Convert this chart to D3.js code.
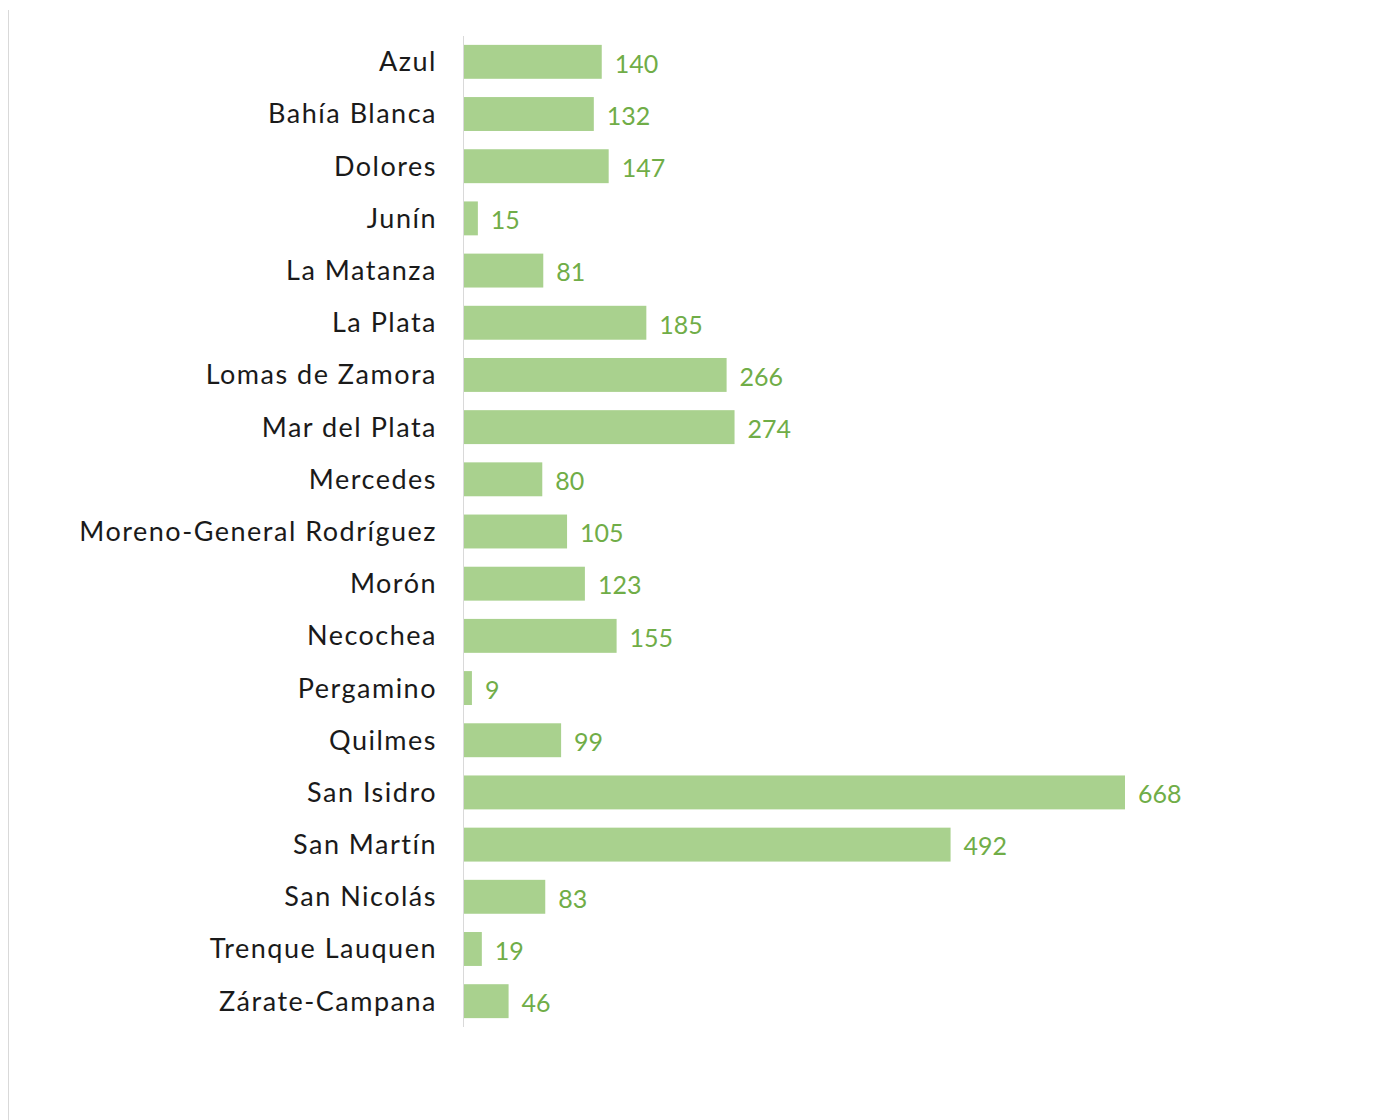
<!DOCTYPE html>
<html>
<head>
<meta charset="utf-8">
<script src="https://cdn.jsdelivr.net/npm/d3@7"></script>
<style>
  body { margin: 0; background: #fff; }
  svg { display: block; }
</style>
</head>
<body>
<svg id="chart" width="1378" height="1120"></svg>
<script>
// departamentos judiciales
const categories = ['Azul', 'Bahía Blanca', 'Dolores', 'Junín', 'La Matanza', 'La Plata',
  'Lomas de Zamora', 'Mar del Plata', 'Mercedes', 'Moreno-General Rodríguez', 'Morón',
  'Necochea', 'Pergamino', 'Quilmes', 'San Isidro', 'San Martín', 'San Nicolás',
  'Trenque Lauquen', 'Zárate-Campana']
const values = [140, 132, 147, 15, 81, 185, 266, 274, 80, 105, 123, 155, 9, 99, 668, 492, 83, 19, 46]

const svg = d3.select('#chart')
const x0 = 463

const x = d3.scaleLinear().domain([0, 668]).range([x0, 1125])
const y = d3.scaleBand().domain(categories).range([36, 1027]).paddingInner(0.35).paddingOuter(0.17)

// frame line on the left
svg.append('line')
  .attr('x1', 8.5).attr('x2', 8.5).attr('y1', 10).attr('y2', 1120)
  .attr('stroke', '#d9d9d9').attr('stroke-width', 1)

const data = categories.map((c, i) => ({ cat: c, val: values[i] }))

svg.selectAll('rect.bar')
  .data(data)
  .enter().append('rect')
  .attr('class', 'bar')
  .attr('x', x(0))
  .attr('y', d => y(d.cat))
  .attr('width', d => x(d.val) - x(0))
  .attr('height', y.bandwidth())
  .attr('fill', '#a9d18e')

// vertical axis line
svg.append('line')
  .attr('x1', x0 + 0.5).attr('x2', x0 + 0.5).attr('y1', 36).attr('y2', 1027)
  .attr('stroke', '#d9d9d9').attr('stroke-width', 1)

svg.selectAll('text.cat')
  .data(data)
  .enter().append('text')
  .attr('class', 'cat')
  .attr('x', 437)
  .attr('y', d => y(d.cat) + y.bandwidth() / 2)
  .attr('dy', '0.35em')
  .attr('text-anchor', 'end')
  .attr('font-family', 'Lato, sans-serif')
  .attr('font-size', 27)
  .attr('letter-spacing', 1.5)
  .attr('fill', '#1a1a1a')
  .text(d => d.cat)

svg.selectAll('text.val')
  .data(data)
  .enter().append('text')
  .attr('class', 'val')
  .attr('x', d => x(d.val) + 13)
  .attr('y', d => y(d.cat) + y.bandwidth() / 2 + 2)
  .attr('dy', '0.35em')
  .attr('font-family', 'Lato, sans-serif')
  .attr('font-size', 25)
  .attr('fill', '#70ad47')
  .text(d => d.val)
</script>
</body>
</html>
